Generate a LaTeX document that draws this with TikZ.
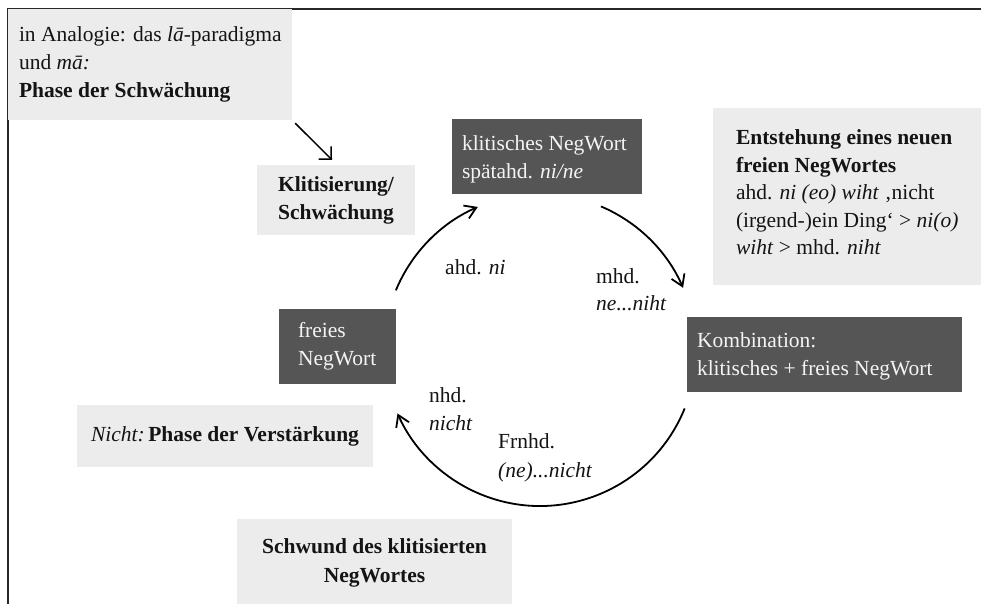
\documentclass[tikz,border=0pt]{standalone}
\usepackage{fontspec}
\setmainfont{Liberation Serif}
\usetikzlibrary{arrows.meta,calc}
\definecolor{lightbox}{RGB}{236,236,236}
\definecolor{darkfill}{RGB}{85,85,85}
\definecolor{ink}{RGB}{20,20,20}
\definecolor{paper}{RGB}{244,244,244}
\definecolor{framecol}{RGB}{40,40,40}
\begin{document}
\begin{tikzpicture}[x=1pt,y=-1pt,
  every node/.style={font=\fontsize{21.5}{28}\selectfont, text=ink, inner sep=0pt},
  boxsize/.style 2 args={minimum width=#1, minimum height=#2},
  lightbg/.style={fill=lightbox, draw=none},
  darkbg/.style={fill=darkfill, draw=none},
  darktext/.style={text=paper, align=left, anchor=west},
  inktext/.style={text=ink, align=left, anchor=west},
  circarrow/.style={line width=1.8pt, draw=black, -{Straight Barb[length=11pt,width=14pt,line width=1.8pt]}},
  straightarrow/.style={line width=1.5pt, draw=black, -{Straight Barb[length=9pt,width=18pt,line width=1.5pt]}},
  framestyle/.style={line width=2pt, draw=framecol}
]
\useasboundingbox (0,0) rectangle (981,603);
\fill[white] (0,0) rectangle (981,603);

% frame
\coordinate (fTL) at (7.5,8.5);
\coordinate (fTR) at (985,8.5);
\coordinate (fBL) at (7.5,610);
\draw[framestyle] (fTR) -- (fTL) -- (fBL);

% boxes
\node[lightbg, boxsize={284}{111}] (b1) at (150,64.5) {};
\node[inktext] (t1) at ([xshift=11pt]b1.west) {in Analogie: das \textit{lā}-paradigma\\und \textit{mā:}\\\textbf{Phase der Schwächung}};

\node[lightbg, boxsize={158}{70}, align=center, font=\fontsize{21.5}{28}\selectfont\bfseries] (kl) at (336,200) {Klitisierung/\\Schwächung};

\node[darkbg, boxsize={190}{75}] (kn) at (547,156.5) {};
\node[darktext] (tkn) at ([xshift=10pt,yshift=-3pt]kn.west) {klitisches NegWort\\spätahd. \textit{ni/ne}};

\node[lightbg, boxsize={290}{177}] (en) at (858,196.5) {};
\node[inktext, font=\fontsize{21.5}{27.5}\selectfont] (ten) at ([xshift=23pt,yshift=4pt]en.west) {\textbf{Entstehung eines neuen}\\\textbf{freien NegWortes}\\ahd. \textit{ni (eo) wiht} ‚nicht\\(irgend-)ein Ding‘ > \textit{ni(o)}\\\textit{wiht} > mhd. \textit{niht}};

\node[darkbg, boxsize={117}{75}] (fw) at (337.5,346.5) {};
\node[darktext] (tfw) at ([xshift=19pt]fw.west) {freies\\NegWort};

\node[darkbg, boxsize={275}{75}] (ko) at (824.5,354.5) {};
\node[darktext] (tko) at ([xshift=10pt,yshift=-1.5pt]ko.west) {Kombination:\\klitisches + freies NegWort};

\node[lightbg, boxsize={296}{62}] (ni) at (225,436) {\textit{Nicht:}\,\textbf{Phase der Verstärkung}};

\node[lightbg, boxsize={275}{101}] (sw) at (374.5,569.5) {};
\node[align=center, font=\fontsize{21.5}{29}\selectfont\bfseries] (tsw) at (374.5,562.5) {Schwund des klitisierten\\NegWortes};

% straight arrow
\draw[straightarrow] ([shift={(3,3)}]b1.south east) -- ([shift={(-4,-5)}]kl.north);

% cycle
\coordinate (C) at (540,350);
\coordinate (a1) at ($(C)+(-157.5:156)$);
\coordinate (a2) at ($(C)+(-67:156)$);
\coordinate (a3) at ($(C)+(22:156)$);
\draw[circarrow] (a1) arc[start angle=157.5, end angle=113.5, radius=156pt];
\draw[circarrow] (a2) arc[start angle=67, end angle=23.5, radius=156pt];
\draw[circarrow] (a3) arc[start angle=-22, end angle=-156, radius=156pt];

% cycle labels
\node[inktext] (l1) at (445,267) {ahd. \textit{ni}};
\node[inktext, font=\fontsize{21.5}{27}\selectfont] (l2) at (596,290) {mhd.\\\textit{ne...niht}};
\node[inktext] (l3) at (429,409) {nhd.\\\textit{nicht}};
\node[inktext, font=\fontsize{21.5}{29}\selectfont] (l4) at (498,457.5) {Frnhd.\\\textit{(ne)...nicht}};
\end{tikzpicture}
\end{document}
